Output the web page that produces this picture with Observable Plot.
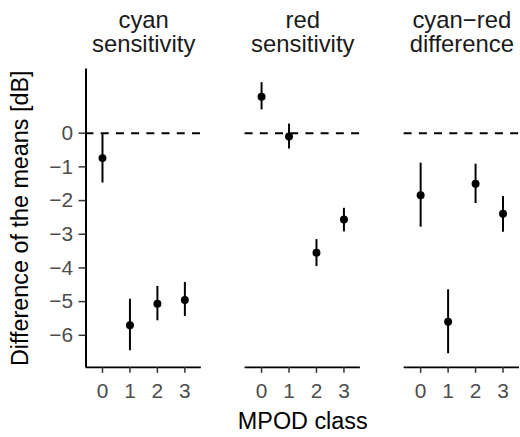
<!DOCTYPE html>
<html>
<head>
<meta charset="utf-8">
<script src="https://cdn.jsdelivr.net/npm/d3@7"></script>
<script src="https://cdn.jsdelivr.net/npm/@observablehq/plot@0.6"></script>
<style>
  html, body { margin: 0; padding: 0; background: #fff; overflow: hidden; }
  #chart { width: 520px; height: 437px; overflow: hidden; }
</style>
</head>
<body>
<div id="chart"></div>
<script>
const panels = ["cyan", "red", "diff"];
const panelTitles = ["cyan\nsensitivity", "red\nsensitivity", "cyan\u2212red\ndifference"];
const classes = [0, 1, 2, 3];

const cyanMean = [-0.74, -5.70, -5.06, -4.95];
const cyanLo   = [-1.48, -6.46, -5.57, -5.44];
const cyanHi   = [-0.03, -4.93, -4.55, -4.43];

const redMean  = [1.08, -0.10, -3.55, -2.56];
const redLo    = [0.69, -0.47, -3.96, -2.93];
const redHi    = [1.50, 0.27, -3.16, -2.23];

const diffMean = [-1.84, -5.60, -1.50, -2.39];
const diffLo   = [-2.79, -6.55, -2.09, -2.94];
const diffHi   = [-0.89, -4.65, -0.92, -1.88];

const yTicks = [0, -1, -2, -3, -4, -5, -6];
const yLabel = "Difference of the means [dB]";
const xLabel = "MPOD class";

const series = {
  cyan: [cyanMean, cyanLo, cyanHi],
  red: [redMean, redLo, redHi],
  diff: [diffMean, diffLo, diffHi]
};
const rows = [];
for (const p of panels) {
  const [m, lo, hi] = series[p];
  classes.forEach((c, i) => rows.push({panel: p, cls: c, mean: m[i], lo: lo[i], hi: hi[i]}));
}
const titleOf = new Map(panels.map((p, i) => [p, panelTitles[i]]));

// ggplot-like expansion: 5% continuous, 0.6 discrete
const yMin = d3.min(rows, d => d.lo), yMax = d3.max(rows, d => d.hi);
const ySpan = yMax - yMin;
const yDomain = [yMin - 0.05 * ySpan, yMax + 0.05 * ySpan];
const xDomain = [classes[0] - 0.6, classes[classes.length - 1] + 0.6];

const font = "'Liberation Sans', Arial, Helvetica, sans-serif";

const chart = Plot.plot({
  width: 523,
  height: 437,
  marginTop: 69,
  marginBottom: 68,
  marginLeft: 85,
  marginRight: 0,
  style: {fontFamily: font, background: "#fff", color: "#000"},
  fx: {domain: panels, paddingInner: 0.274, paddingOuter: 0},
  x: {domain: xDomain},
  y: {domain: yDomain},
  marks: [
    Plot.ruleY([0], {stroke: "#000", strokeWidth: 2, strokeDasharray: "8,7.3"}),
    Plot.ruleY([yDomain[0]], {stroke: "#000", strokeWidth: 2}),
    Plot.ruleX([{panel: panels[0]}], {x: () => xDomain[0], fx: "panel", stroke: "#000", strokeWidth: 2}),
    Plot.ruleX(rows, {x: "cls", y1: "lo", y2: "hi", fx: "panel", stroke: "#000", strokeWidth: 2}),
    Plot.dot(rows, {x: "cls", y: "mean", fx: "panel", r: 4, fill: "#000", stroke: null}),
    Plot.axisY({ticks: yTicks, tickSize: 7, tickPadding: 6, fontSize: 21, fill: "#4d4d4d", stroke: "#333", strokeWidth: 1.5, label: null, tickFormat: d3.format("")}),
    Plot.axisY({ticks: [], tickSize: 0, label: yLabel, labelAnchor: "center", labelArrow: "none", labelOffset: 75, fontSize: 23.5, fill: "#000"}),
    Plot.axisX({ticks: classes, tickSize: 6, tickPadding: 10, fontSize: 21, fill: "#4d4d4d", stroke: "#333", strokeWidth: 1.5, label: null, tickFormat: d => String(d)}),
    Plot.axisFx({anchor: "top", tickSize: 0, tickPadding: 17, fontSize: 24, fill: "#1a1a1a", label: null, tickFormat: d => titleOf.get(d)}),
    Plot.axisFx({anchor: "bottom", tickSize: 0, tickFormat: () => "", label: xLabel, labelAnchor: "center", labelArrow: "none", labelOffset: 62, fontSize: 23.5, fill: "#000"})
  ]
});
document.getElementById("chart").appendChild(chart);
</script>
</body>
</html>
